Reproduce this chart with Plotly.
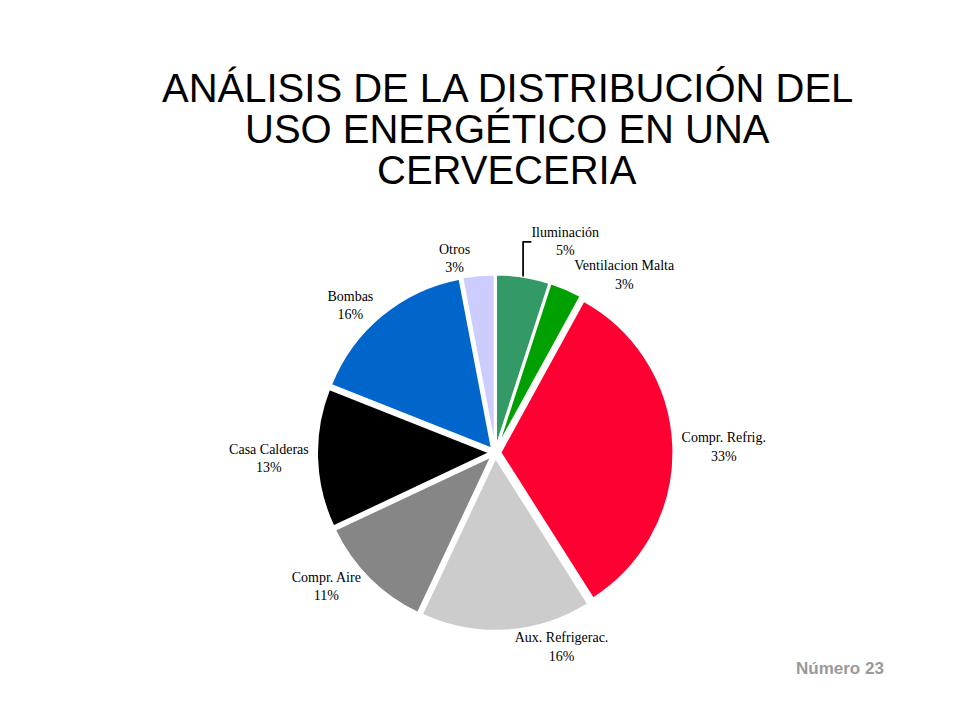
import plotly.graph_objects as go

labels = ["Iluminación", "Ventilacion Malta", "Compr. Refrig.", "Aux. Refrigerac.",
          "Compr. Aire", "Casa Calderas", "Bombas", "Otros"]
values = [5, 3, 33, 16, 11, 13, 16, 3]
colors = ["#339966", "#00A000", "#FF0033", "#CCCCCC", "#868686", "#000000", "#0066CC", "#CCCCFF"]
title_lines = ["ANÁLISIS DE LA DISTRIBUCIÓN DEL", "USO ENERGÉTICO EN UNA", "CERVECERIA"]

fig = go.Figure(go.Pie(
    labels=labels, values=values, sort=False, direction="clockwise", rotation=0,
    marker=dict(colors=colors, line=dict(color="white", width=2)),
    pull=[0.03] * len(values),
    texttemplate="%{label}<br>%{percent:.0%}",
    textposition="outside",
    textfont=dict(family="Liberation Serif", size=14, color="black"),
    domain=dict(x=[0.315, 0.70], y=[0.135, 0.63]),
    showlegend=False,
))

for i, line in enumerate(title_lines):
    fig.add_annotation(x=0.52, y=1 - (80 + 41 * i) / 720, xref="paper", yref="paper",
                       showarrow=False, yanchor="middle", text=line,
                       font=dict(family="Liberation Sans", size=40, color="black"))
fig.add_annotation(x=0.915, y=0.067, xref="paper", yref="paper", showarrow=False,
                   xanchor="right", text="<b>Número 23</b>",
                   font=dict(family="Liberation Sans", size=17, color="#999999"))

fig.update_layout(width=960, height=720, margin=dict(l=0, r=0, t=0, b=0),
                  paper_bgcolor="white", plot_bgcolor="white")
fig.write_html("out.html")
